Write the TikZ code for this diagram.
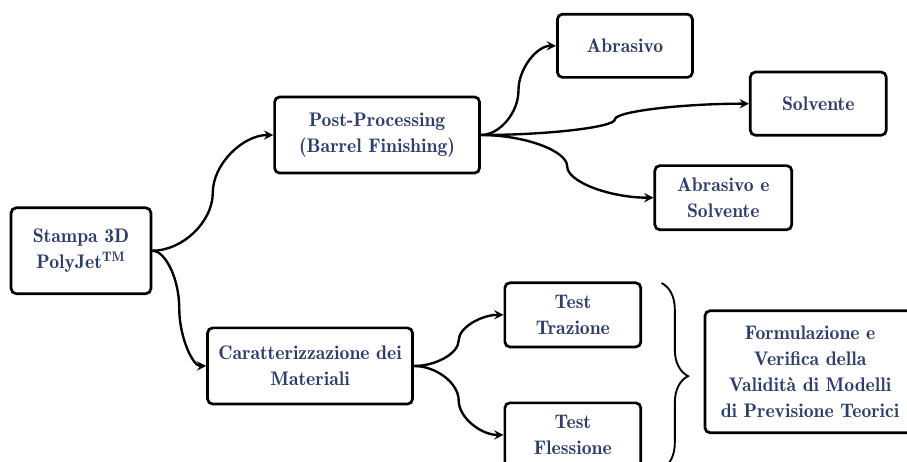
\documentclass[tikz,border=0pt]{standalone}
\usetikzlibrary{arrows,calc,decorations.pathreplacing}
\definecolor{navytext}{RGB}{44,62,108}
\tikzset{
    stepbox/.style={draw, line width=1.6pt, rounded corners=3pt, fill=white,
        align=center, text=navytext, inner sep=2pt,
        font=\fontsize{11.6}{15.4}\fontseries{b}\selectfont},
    link/.style={->, line width=1.4pt},
    % two-piece bend, vertical in the middle
    sbend/.style={to path={let \p1=(\tikztostart), \p2=(\tikztotarget),
        \n1={\x2-\x1}, \n2={\y2-\y1} in
        .. controls ({\x1+0.25*\n1},\y1) and ({\x1+0.5*\n1},{\y1+0.25*\n2})
        .. ({\x1+0.5*\n1},{\y1+0.5*\n2})
        .. controls ({\x1+0.5*\n1},{\y1+0.75*\n2}) and ({\x1+0.75*\n1},\y2)
        .. (\tikztotarget) \tikztonodes}}
}
\begin{document}
\begin{tikzpicture}[>=stealth]
    \useasboundingbox (0,0) rectangle (18.81,9.58);

    \node[stepbox, minimum width=2.9cm, minimum height=1.78cm] (stampa) at (1.68,4.38) {Stampa 3D\\PolyJet\textsuperscript{TM}};

    \node[stepbox, minimum width=4.25cm, minimum height=1.58cm] (post) at (7.82,6.78) {Post-Processing\\(Barrel Finishing)};
    \node[stepbox, minimum width=2.8cm, minimum height=1.31cm] (abrasivo) at (12.96,8.63) {Abrasivo};
    \node[stepbox, minimum width=2.82cm, minimum height=1.31cm] (solvente) at (16.97,7.43) {Solvente};
    \node[stepbox, minimum width=2.84cm, minimum height=1.33cm] (abrsolv) at (15.0,5.48) {Abrasivo e\\Solvente};

    \node[stepbox, minimum width=4.25cm, minimum height=1.58cm] (caratt) at (6.43,1.99) {Caratterizzazione dei\\Materiali};
    \node[stepbox, minimum width=2.82cm, minimum height=1.33cm] (trazione) at (11.88,3.05) {Test\\Trazione};
    \node[stepbox, minimum width=2.82cm, minimum height=1.33cm] (flessione) at (11.88,0.56) {Test\\Flessione};

    \node[stepbox, minimum width=4.36cm, minimum height=2.53cm] (modelli) at (16.8,1.87) {Formulazione e\\Verifica della\\Validità di Modelli\\di Previsione Teorici};

    % connectors
    \draw[link] (stampa.east) to[sbend] (post.west);
    \draw[link] (stampa.east) to[sbend] (caratt.west);
    \draw[link] (post.east) to[sbend] (abrasivo.west);
    \draw[link] (post.east) to[sbend] (solvente.west);
    \draw[link] (post.east) to[sbend] (abrsolv.west);
    \draw[link] (caratt.east) to[sbend] (trazione.west);
    \draw[link] (caratt.east) to[sbend] (flessione.west);

    % brace
    \coordinate (bracetop) at (13.72,3.71);
    \coordinate (bracebot) at (13.72,-0.15);
    \draw[line width=1.1pt, decorate, decoration={brace, amplitude=0.55cm}] (bracetop) -- (bracebot);
\end{tikzpicture}
\end{document}
